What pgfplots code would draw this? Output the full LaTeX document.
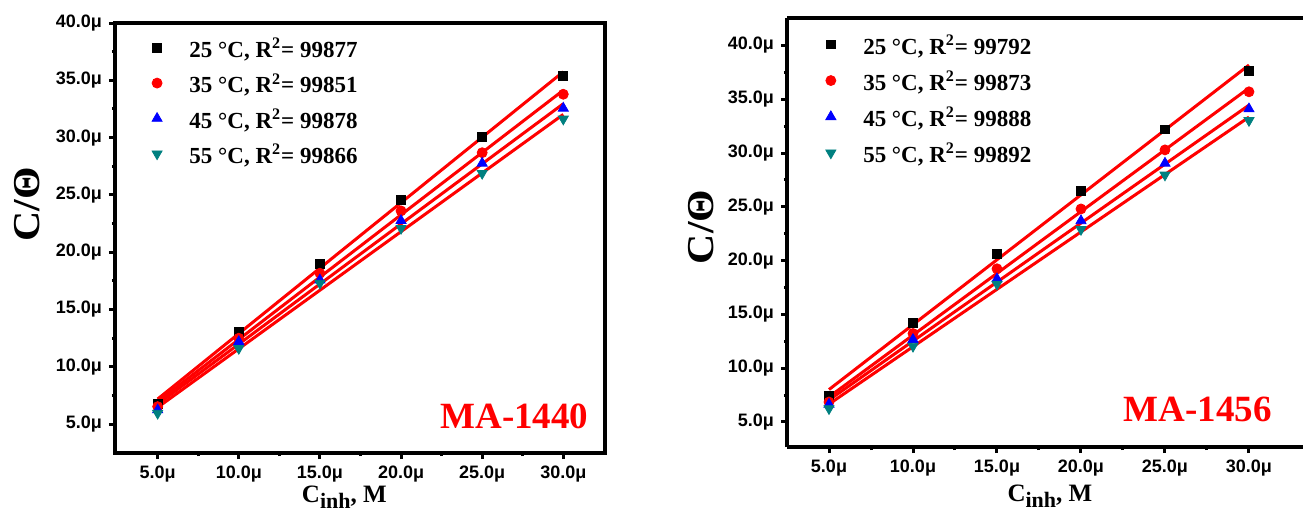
\documentclass[border=0pt]{standalone}
\usepackage{fontspec}
\setmainfont{Liberation Serif}
\setsansfont{Liberation Sans}
\usepackage{pgfplots}
\pgfplotsset{compat=1.18}
\definecolor{tealc}{RGB}{0,128,128}
\pgfplotsset{
  common/.style={
    scale only axis,
    axis line style={line width=1.8pt},
    tick pos=left,
    tick align=outside,
    major tick length=3pt,
    minor tick length=1.6pt,
    every tick/.style={black,line width=1.5pt},
    minor x tick num=1,
    minor y tick num=1,
    xtick={5,10,15,20,25,30},
    xticklabels={5.0μ,10.0μ,15.0μ,20.0μ,25.0μ,30.0μ},
    ytick={5,10,15,20,25,30,35,40},
    yticklabels={5.0μ,10.0μ,15.0μ,20.0μ,25.0μ,30.0μ,35.0μ,40.0μ},
    ticklabel style={font=\sffamily\bfseries\fontsize{9}{10}\selectfont},
    clip=false,
    legend cell align=left,
    legend style={draw=none,fill=none,inner sep=0pt,row sep=8pt,
      font=\bfseries\fontsize{11.5}{12}\selectfont,
      nodes={inner sep=0pt, text depth=0pt},
      anchor=north west},
    legend image code/.code={\path (-3pt,0pt) (16pt,0pt);\draw[##1] plot coordinates {(0pt,0pt)};},
  },
  sq/.style={only marks,mark=square*,mark size=2.2pt,black},
  ci/.style={only marks,mark=*,mark size=2.5pt,red},
  tu/.style={only marks,mark=triangle*,mark size=2.9pt,blue},
  td/.style={only marks,mark=triangle*,mark options={rotate=180},mark size=2.9pt,tealc},
  fit/.style={red,line width=1.5pt,no marks,forget plot},
}
\begin{document}
\begin{tikzpicture}
\begin{axis}[common,
  at={(57.5pt,28.5pt)},anchor=south west,
  width=245pt,height=215pt,
  xmin=2.37,xmax=32.57,ymin=2.47,ymax=40,
  legend style={at={(0.072,0.966)}},
]
\addplot[sq] coordinates {(5,6.73)(10,13.06)(15,18.97)(20,24.55)(25,30.08)(30,35.38)};
\addlegendentry{25 °C, R\textsuperscript{2}= 99877}
\addplot[ci] coordinates {(5,6.52)(10,12.49)(15,18.16)(20,23.6)(25,28.68)(30,33.78)};
\addlegendentry{35 °C, R\textsuperscript{2}= 99851}
\addplot[tu] coordinates {(5,6.23)(10,12.19)(15,17.57)(20,22.75)(25,27.76)(30,32.56)};
\addlegendentry{45 °C, R\textsuperscript{2}= 99878}
\addplot[td] coordinates {(5,5.94)(10,11.6)(15,17.29)(20,22.08)(25,26.88)(30,31.62)};
\addlegendentry{55 °C, R\textsuperscript{2}= 99866}
\addplot[fit] coordinates {(5,7.18)(30,35.74)};
\addplot[fit] coordinates {(5,6.95)(30,34.13)};
\addplot[fit] coordinates {(5,6.73)(30,32.95)};
\addplot[fit] coordinates {(5,6.45)(30,32.02)};
\node[anchor=base east,inner sep=0pt,red,font=\bfseries\fontsize{18.5}{19}\selectfont] at (rel axis cs:0.967,0.058) {MA-1440};
\node[anchor=base,inner sep=0pt,font=\bfseries\fontsize{12.5}{12}\selectfont] at (rel axis cs:0.468,-0.116) {C\raisebox{-0.5ex}{\fontsize{11}{11}\selectfont inh}, M};
\node[rotate=90,inner sep=0pt,font=\bfseries\fontsize{19}{19}\selectfont] at (rel axis cs:-0.18,0.579) {\scalebox{1.1}[1]{C/Θ}};
\end{axis}
\begin{axis}[common,
  at={(393.5pt,31.5pt)},anchor=south west,
  width=285pt,height=214.5pt,
  xmin=2.5,xmax=36.43,ymin=2.67,ymax=42.55,
  axis x line*=box, axis y line*=left,
  x axis line style={-}, y axis line style={-},
  xtick pos=bottom, ytick pos=left,
  legend style={at={(0.065,0.962)},row sep=8.4pt},
]
\addplot[sq] coordinates {(5,7.4)(10,14.21)(15,20.6)(20,26.5)(25,32.2)(30,37.67)};
\addlegendentry{25 °C, R\textsuperscript{2}= 99792}
\addplot[ci] coordinates {(5,6.85)(10,13.22)(15,19.24)(20,24.8)(25,30.29)(30,35.69)};
\addlegendentry{35 °C, R\textsuperscript{2}= 99873}
\addplot[tu] coordinates {(5,6.64)(10,12.66)(15,18.3)(20,23.7)(25,29.05)(30,34.1)};
\addlegendentry{45 °C, R\textsuperscript{2}= 99888}
\addplot[td] coordinates {(5,6.24)(10,12.04)(15,17.81)(20,22.9)(25,27.96)(30,33.02)};
\addlegendentry{55 °C, R\textsuperscript{2}= 99892}
\addplot[fit] coordinates {(5,8.01)(30,38.18)};
\addplot[fit] coordinates {(5,7.33)(30,36.04)};
\addplot[fit] coordinates {(5,7.04)(30,34.45)};
\addplot[fit] coordinates {(5,6.66)(30,33.34)};
\node[anchor=base east,inner sep=0pt,red,font=\bfseries\fontsize{18.5}{19}\selectfont] at (axis cs:31.37,5.02) {MA-1456};
\node[anchor=base,inner sep=0pt,font=\bfseries\fontsize{12.5}{12}\selectfont] at (axis cs:18.15,-2.44) {C\raisebox{-0.5ex}{\fontsize{11}{11}\selectfont inh}, M};
\node[rotate=90,inner sep=0pt,font=\bfseries\fontsize{19}{19}\selectfont] at (rel axis cs:-0.15,0.513) {\scalebox{1.1}[1]{C/Θ}};
\end{axis}
\pgfresetboundingbox
\useasboundingbox (0,0) rectangle (651.5pt,255pt);
\end{tikzpicture}
\end{document}
